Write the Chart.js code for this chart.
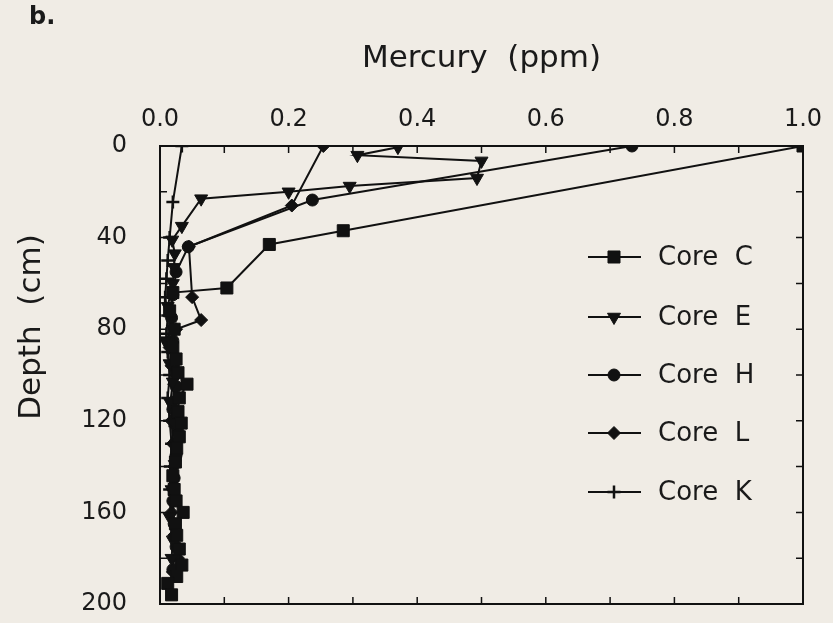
<!DOCTYPE html>
<html>
<head>
<meta charset="utf-8">
<script src="https://cdn.jsdelivr.net/npm/chart.js@4.4.1/dist/chart.umd.min.js"></script>
<style>
    html, body { margin: 0; padding: 0; background: #f0ece5; }
    #wrap { width: 833px; height: 623px; position: relative; }
</style>
</head>
<body>
<div id="wrap"><canvas id="mercury"></canvas></div>
<script>
// depth (cm) and mercury (ppm), one pair of arrays per core
var coreCDepth = [0, 37, 43, 62, 64, 72, 80, 88, 93, 99, 104, 110, 116, 121, 127, 132, 138, 144, 150, 155, 160, 165, 170, 176, 183, 188, 191, 196];
var coreCHg    = [1.0, 0.285, 0.17, 0.104, 0.02, 0.015, 0.022, 0.02, 0.025, 0.028, 0.042, 0.03, 0.028, 0.033, 0.03, 0.026, 0.024, 0.02, 0.022, 0.025, 0.036, 0.024, 0.026, 0.03, 0.034, 0.026, 0.012, 0.018];

var coreEDepth = [0.5, 4, 6.5, 14, 17.5, 20, 23, 35, 41, 47, 53, 60, 70, 80, 85, 95, 103, 112, 121, 130, 139, 150, 162, 172, 180];
var coreEHg    = [0.37, 0.307, 0.5, 0.493, 0.295, 0.2, 0.064, 0.034, 0.019, 0.023, 0.022, 0.02, 0.012, 0.02, 0.008, 0.015, 0.02, 0.016, 0.022, 0.025, 0.023, 0.018, 0.015, 0.02, 0.018];

var coreHDepth = [0, 23.6, 44, 55, 65, 75, 85, 95, 105, 115, 125, 135, 145, 155, 165, 175, 185];
var coreHHg    = [0.734, 0.237, 0.044, 0.025, 0.02, 0.018, 0.02, 0.022, 0.025, 0.02, 0.028, 0.025, 0.022, 0.02, 0.022, 0.025, 0.02];

var coreLDepth = [0, 26, 44, 66, 76, 80, 88, 96, 104, 112, 120, 130, 140, 150, 160, 170, 180, 186];
var coreLHg    = [0.254, 0.205, 0.045, 0.05, 0.064, 0.025, 0.015, 0.018, 0.022, 0.02, 0.018, 0.02, 0.022, 0.02, 0.018, 0.022, 0.028, 0.02];

var coreKDepth = [0, 24.5, 40, 50, 58, 66, 74, 82, 90, 100, 110, 120, 130, 140, 150];
var coreKHg    = [0.034, 0.02, 0.015, 0.012, 0.01, 0.008, 0.012, 0.01, 0.012, 0.015, 0.012, 0.015, 0.018, 0.016, 0.015];

var coreNames = ['Core  C', 'Core  E', 'Core  H', 'Core  L', 'Core  K'];
var xTicks = [0, 0.2, 0.4, 0.6, 0.8, 1.0];
var yTicks = [0, 40, 80, 120, 160, 200];

var FONT = '"DejaVu Sans", sans-serif';
var INK = '#1a1a1a';

function pairs(depths, values) {
    var pts = [];
    for (var i = 0; i < depths.length; i++) {
        pts.push({ x: values[i], y: depths[i] });
    }
    return pts;
}

var markers = [
    { pointStyle: 'rect', radius: 8.5, rotation: 0 },
    { pointStyle: 'triangle', radius: 7.5, rotation: 180 },
    { pointStyle: 'circle', radius: 6, rotation: 0 },
    { pointStyle: 'rectRot', radius: 6.5, rotation: 0 },
    { pointStyle: 'cross', radius: 6.5, rotation: 0 }
];

var series = [
    pairs(coreCDepth, coreCHg),
    pairs(coreEDepth, coreEHg),
    pairs(coreHDepth, coreHHg),
    pairs(coreLDepth, coreLHg),
    pairs(coreKDepth, coreKHg)
];

var datasets = [];
series.forEach(function (pts, i) {
    datasets.push({
        label: coreNames[i],
        data: pts,
        showLine: true,
        borderColor: '#111',
        backgroundColor: '#111',
        borderWidth: 2,
        pointStyle: markers[i].pointStyle,
        pointRadius: markers[i].radius,
        pointRotation: markers[i].rotation,
        pointBorderWidth: i == 4 ? 2.5 : 1,
        pointBorderColor: '#111',
        pointBackgroundColor: '#111'
    });
});

// frame, inward ticks on all four sides, legend and loose labels
var decorations = {
    id: 'decorations',
    afterDraw: function (chart) {
        var ctx = chart.ctx;
        var a = chart.chartArea;
        var xs = chart.scales.x;
        var ys = chart.scales.y;
        var tick = 7;

        ctx.save();
        ctx.strokeStyle = '#111';
        ctx.lineWidth = 2;
        ctx.strokeRect(a.left, a.top, a.right - a.left, a.bottom - a.top);

        ctx.lineWidth = 1.5;
        ctx.beginPath();
        for (var k = 1; k < 10; k++) {
            var px = xs.getPixelForValue(k / 10);
            ctx.moveTo(px, a.top); ctx.lineTo(px, a.top + tick);
            ctx.moveTo(px, a.bottom); ctx.lineTo(px, a.bottom - tick);
        }
        for (var d = 20; d < 200; d += 20) {
            var py = ys.getPixelForValue(d);
            ctx.moveTo(a.left, py); ctx.lineTo(a.left + tick, py);
            ctx.moveTo(a.right, py); ctx.lineTo(a.right - tick, py);
        }
        ctx.stroke();

        // legend
        var rowY = [257, 317, 375, 433, 492];
        ctx.font = '26px ' + FONT;
        ctx.textBaseline = 'middle';
        ctx.textAlign = 'left';
        chart.data.datasets.forEach(function (ds, i) {
            var y = rowY[i];
            ctx.strokeStyle = '#111';
            ctx.lineWidth = 2;
            ctx.beginPath();
            ctx.moveTo(588, y);
            ctx.lineTo(641, y);
            ctx.stroke();
            ctx.fillStyle = '#111';
            ctx.lineWidth = ds.pointBorderWidth;
            Chart.helpers.drawPoint(ctx, {
                pointStyle: ds.pointStyle,
                radius: ds.pointRadius,
                rotation: ds.pointRotation,
                borderWidth: ds.pointBorderWidth
            }, 614, y);
            ctx.fillStyle = INK;
            ctx.fillText(ds.label, 658, y + 1);
        });

        // y title
        ctx.save();
        ctx.translate(32, 327);
        ctx.rotate(-Math.PI / 2);
        ctx.textAlign = 'center';
        ctx.font = '31px ' + FONT;
        ctx.fillStyle = INK;
        ctx.fillText('Depth  (cm)', 0, 0);
        ctx.restore();

        // panel letter
        ctx.font = 'bold 24px ' + FONT;
        ctx.textAlign = 'left';
        ctx.textBaseline = 'middle';
        ctx.fillStyle = INK;
        ctx.fillText('b.', 29, 18);
        ctx.restore();
    }
};

var canvas = document.getElementById('mercury');
canvas.width = 833;
canvas.height = 623;

var mercuryChart = new Chart(canvas.getContext('2d'), {
    type: 'scatter',
    data: { datasets: datasets },
    plugins: [decorations],
    options: {
        responsive: false,
        animation: false,
        layout: { padding: { left: 0, right: 30, top: 0, bottom: 19 } },
        plugins: {
            legend: { display: false },
            tooltip: { enabled: false }
        },
        scales: {
            x: {
                type: 'linear',
                position: 'top',
                min: 0,
                max: 1,
                afterFit: function (scale) {
                    scale.height = 146;
                    scale.paddingLeft = 0;
                    scale.paddingRight = 0;
                },
                afterBuildTicks: function (scale) {
                    scale.ticks = xTicks.map(function (v) { return { value: v }; });
                },
                grid: { display: false, drawTicks: false },
                border: { display: false },
                ticks: {
                    padding: 12,
                    color: INK,
                    font: { family: FONT, size: 24 },
                    maxRotation: 0,
                    callback: function (v) { return Number(v).toFixed(1); }
                },
                title: {
                    display: true,
                    text: 'Mercury  (ppm)',
                    color: INK,
                    font: { family: FONT, size: 31 },
                    padding: { top: 40, bottom: 0 }
                }
            },
            y: {
                type: 'linear',
                reverse: true,
                min: 0,
                max: 200,
                afterFit: function (scale) {
                    scale.width = 160;
                    scale.paddingTop = 0;
                    scale.paddingBottom = 0;
                },
                afterBuildTicks: function (scale) {
                    scale.ticks = yTicks.map(function (v) { return { value: v }; });
                },
                grid: { display: false, drawTicks: false },
                border: { display: false },
                ticks: {
                    padding: 33,
                    color: INK,
                    font: { family: FONT, size: 24 }
                }
            }
        }
    }
});
</script>
</body>
</html>
